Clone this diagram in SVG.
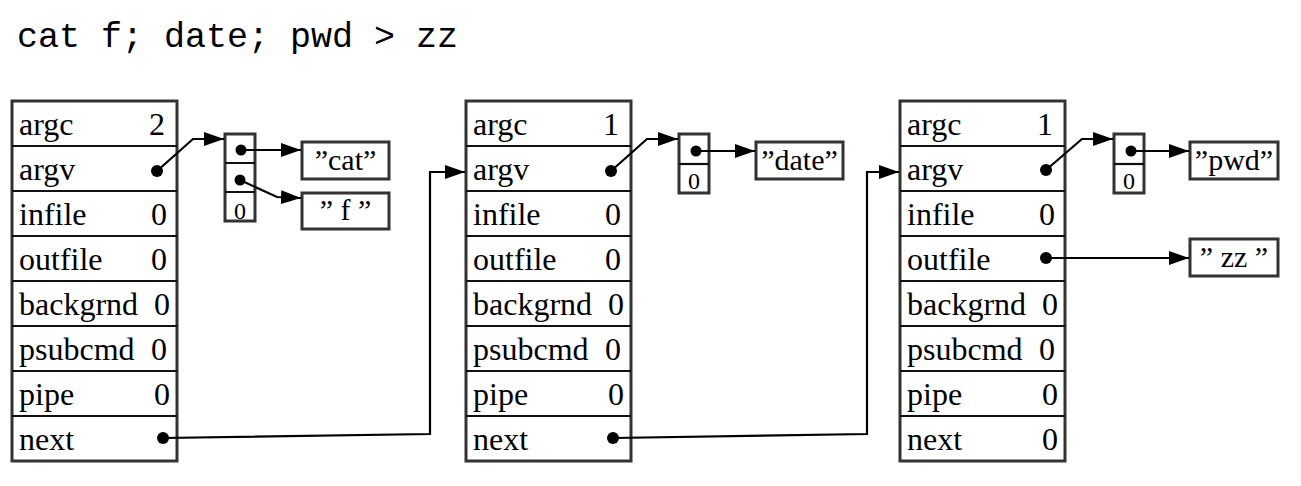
<svg xmlns="http://www.w3.org/2000/svg" width="1301" height="486" viewBox="0 0 1301 486">
<style>
  .box{fill:#fff;stroke:#333;stroke-width:3}
  .sep{stroke:#111;stroke-width:2.2}
  .lbl{font-family:"Liberation Serif","Times New Roman",serif;font-size:32px;fill:#000}
  .str{font-family:"Liberation Serif","Times New Roman",serif;font-size:30px;fill:#000;text-anchor:middle}
  .small{font-family:"Liberation Serif","Times New Roman",serif;font-size:24px;fill:#000;text-anchor:middle}
  .title{font-family:"Liberation Mono","Courier New",monospace;font-size:35px;fill:#000}
  .conn{fill:none;stroke:#000;stroke-width:2.2}
  .arr{marker-end:url(#ah)}
  .dot{fill:#000}
</style>
<defs>
  <marker id="ah" markerUnits="userSpaceOnUse" markerWidth="21" markerHeight="15" refX="20" refY="7" orient="auto">
    <path d="M0,0 L20,7 L0,14 z" fill="#000"/>
  </marker>
</defs>
<rect width="1301" height="486" fill="#fff"/>
<text class="title" x="17" y="47">cat f; date; pwd &gt; zz</text>

<g id="cmd1">
  <rect class="box" x="12" y="101" width="165" height="360"/>
  <path class="sep" d="M12,146H177M12,191H177M12,236H177M12,281H177M12,326H177M12,371H177M12,416H177"/>
  <text class="lbl" x="19" y="135">argc</text>
  <text class="lbl" x="19" y="180">argv</text>
  <text class="lbl" x="19" y="225">infile</text>
  <text class="lbl" x="19" y="270">outfile</text>
  <text class="lbl" x="19" y="315">backgrnd</text>
  <text class="lbl" x="19" y="360">psubcmd</text>
  <text class="lbl" x="19" y="405">pipe</text>
  <text class="lbl" x="19" y="450">next</text>
  <text class="lbl" x="149" y="135">2</text>
  <text class="lbl" x="151" y="225">0</text>
  <text class="lbl" x="151" y="270">0</text>
  <text class="lbl" x="154" y="315">0</text>
  <text class="lbl" x="151" y="360">0</text>
  <text class="lbl" x="154" y="405">0</text>
  <circle class="dot" cx="157" cy="171" r="6"/>
  <circle class="dot" cx="163" cy="438" r="6"/>
</g>

<g id="argv1">
  <rect class="box" x="225" y="134" width="30" height="87"/>
  <path class="sep" d="M225,163H255M225,192H255"/>
  <circle class="dot" cx="241" cy="150" r="5.5"/>
  <circle class="dot" cx="240" cy="180" r="5.5"/>
  <text class="small" x="240" y="219">0</text>
</g>
<g id="s-cat">
  <rect class="box" x="302" y="142" width="87" height="37"/>
  <text class="str" x="345.5" y="170">”cat”</text>
</g>
<g id="s-f">
  <rect class="box" x="302" y="193" width="87" height="36"/>
  <text class="str" x="345.5" y="220">” f ”</text>
</g>

<g id="cmd2">
  <rect class="box" x="466" y="101" width="165" height="360"/>
  <path class="sep" d="M466,146H631M466,191H631M466,236H631M466,281H631M466,326H631M466,371H631M466,416H631"/>
  <text class="lbl" x="473" y="135">argc</text>
  <text class="lbl" x="473" y="180">argv</text>
  <text class="lbl" x="473" y="225">infile</text>
  <text class="lbl" x="473" y="270">outfile</text>
  <text class="lbl" x="473" y="315">backgrnd</text>
  <text class="lbl" x="473" y="360">psubcmd</text>
  <text class="lbl" x="473" y="405">pipe</text>
  <text class="lbl" x="473" y="450">next</text>
  <text class="lbl" x="603" y="135">1</text>
  <text class="lbl" x="605" y="225">0</text>
  <text class="lbl" x="605" y="270">0</text>
  <text class="lbl" x="608" y="315">0</text>
  <text class="lbl" x="605" y="360">0</text>
  <text class="lbl" x="608" y="405">0</text>
  <circle class="dot" cx="611" cy="171" r="6"/>
  <circle class="dot" cx="613" cy="438" r="6"/>
</g>

<g id="argv2">
  <rect class="box" x="679" y="134" width="30" height="59"/>
  <path class="sep" d="M679,164H709"/>
  <circle class="dot" cx="696" cy="151" r="5.5"/>
  <text class="small" x="694" y="189">0</text>
</g>
<g id="s-date">
  <rect class="box" x="756" y="142" width="87" height="37"/>
  <text class="str" x="799.5" y="170">”date”</text>
</g>

<g id="cmd3">
  <rect class="box" x="900" y="101" width="165" height="360"/>
  <path class="sep" d="M900,146H1065M900,191H1065M900,236H1065M900,281H1065M900,326H1065M900,371H1065M900,416H1065"/>
  <text class="lbl" x="907" y="135">argc</text>
  <text class="lbl" x="907" y="180">argv</text>
  <text class="lbl" x="907" y="225">infile</text>
  <text class="lbl" x="907" y="270">outfile</text>
  <text class="lbl" x="907" y="315">backgrnd</text>
  <text class="lbl" x="907" y="360">psubcmd</text>
  <text class="lbl" x="907" y="405">pipe</text>
  <text class="lbl" x="907" y="450">next</text>
  <text class="lbl" x="1037" y="135">1</text>
  <text class="lbl" x="1039" y="225">0</text>
  <text class="lbl" x="1042" y="315">0</text>
  <text class="lbl" x="1039" y="360">0</text>
  <text class="lbl" x="1042" y="405">0</text>
  <text class="lbl" x="1042" y="450">0</text>
  <circle class="dot" cx="1046" cy="170" r="6"/>
  <circle class="dot" cx="1046" cy="258" r="6"/>
</g>

<g id="argv3">
  <rect class="box" x="1114" y="134" width="30" height="59"/>
  <path class="sep" d="M1114,164H1144"/>
  <circle class="dot" cx="1131" cy="151" r="5.5"/>
  <text class="small" x="1129" y="189">0</text>
</g>
<g id="s-pwd">
  <rect class="box" x="1190" y="142" width="88" height="37"/>
  <text class="str" x="1234" y="170">”pwd”</text>
</g>
<g id="s-zz">
  <rect class="box" x="1190" y="239" width="88" height="37"/>
  <text class="str" x="1234" y="267">” zz ”</text>
</g>

<g id="connectors">
  <path class="conn arr" d="M157,171 L193,139 L224,139"/>
  <path class="conn arr" d="M241,150 L301,150"/>
  <path class="conn arr" d="M240,180 L277,197 L301,198"/>
  <path class="conn arr" d="M163,438 L430,434 L430,172 L465,172"/>
  <path class="conn arr" d="M611,171 L647,139 L678,139"/>
  <path class="conn arr" d="M696,151 L755,151"/>
  <path class="conn arr" d="M613,438 L867,434 L867,172 L899,172"/>
  <path class="conn arr" d="M1046,170 L1082,139 L1113,139"/>
  <path class="conn arr" d="M1131,151 L1189,151"/>
  <path class="conn arr" d="M1046,258 L1189,258"/>
</g>
</svg>
